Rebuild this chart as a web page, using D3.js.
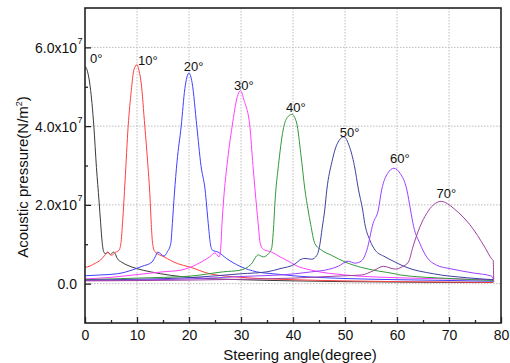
<!DOCTYPE html>
<html>
<head>
<meta charset="utf-8">
<script src="https://cdn.jsdelivr.net/npm/d3@7"></script>
<style>
    body { margin: 0; background: #fff; }
    text { font-family: Arial, "Liberation Sans", sans-serif; fill: #111; }
</style>
</head>
<body>
<div id="chart"></div>
<script>
// steering angle (degree), acoustic pressure (x10^7 N/m^2)
const curve0 = [[0,5.52],[0.5,5.38],[1.0,5.0],[1.7,4.0],[2.2,2.95],[2.7,2.1],[3.0,1.55],[3.3,1.05],[3.65,0.79],[4.0,0.76],[4.4,0.8],[4.9,0.74],[5.45,0.8],[5.8,0.76],[6.2,0.64],[7.0,0.55],[8.1,0.47],[10,0.38],[12.6,0.3],[16.5,0.21],[21,0.15],[30,0.1],[40,0.07],[50,0.05],[60,0.04],[70,0.03],[78.5,0.03]];
const curve10 = [[0,0.41],[1,0.45],[2,0.52],[3,0.6],[3.8,0.72],[4.3,0.8],[5.06,0.72],[5.9,0.8],[6.5,0.84],[6.9,1.02],[7.25,1.6],[7.7,2.6],[8.3,4.0],[8.9,4.9],[9.4,5.43],[10.0,5.56],[10.4,5.4],[10.8,5.1],[11.5,4.0],[12.1,3.0],[12.5,2.2],[12.75,1.5],[13.0,1.02],[13.4,0.82],[15.2,0.68],[17.75,0.51],[20.2,0.42],[24,0.25],[30,0.16],[40,0.1],[50,0.07],[60,0.05],[70,0.04],[78.5,0.03]];
const curve20 = [[0,0.2],[3,0.22],[6.2,0.25],[9.4,0.36],[11,0.44],[12.9,0.55],[13.5,0.68],[14.0,0.8],[15.2,0.7],[15.8,0.8],[16.5,1.02],[16.8,1.53],[17.2,2.3],[17.7,3.1],[18.5,4.0],[19.2,4.95],[20,5.35],[20.6,5.1],[21.5,4.0],[22.3,3.0],[23.1,2.38],[23.7,1.53],[24.1,1.02],[24.5,0.85],[25.6,0.8],[27.2,0.64],[29.8,0.44],[33,0.3],[36.2,0.25],[40,0.2],[50,0.13],[60,0.1],[70,0.08],[78.5,0.06]];
const curve30 = [[0,0.12],[5,0.16],[10,0.23],[15,0.3],[18.3,0.34],[20.2,0.41],[22.75,0.58],[24,0.68],[25,0.78],[25.8,0.68],[26.1,0.9],[26.35,1.53],[26.7,2.2],[27.3,3.0],[28.3,4.0],[29.3,4.75],[29.9,4.9],[30.6,4.65],[31.7,4.0],[32.3,3.0],[32.7,2.38],[33.3,1.53],[33.7,1.02],[34.3,0.87],[35.9,0.8],[37.5,0.68],[39.4,0.55],[40.4,0.47],[43.6,0.34],[50,0.22],[60,0.15],[70,0.12],[78.5,0.1]];
const curve40 = [[0,0.1],[10,0.14],[20.2,0.19],[26.6,0.3],[29.8,0.34],[32,0.5],[33.3,0.73],[34.3,0.68],[35.3,0.76],[35.9,0.9],[36.2,1.3],[36.6,2.2],[37.2,3.0],[38.1,3.9],[38.9,4.22],[39.8,4.3],[40.7,4.08],[41.5,3.3],[42.3,2.38],[42.9,1.87],[43.4,1.5],[44.2,1.02],[45.5,0.85],[47.4,0.72],[50,0.55],[53.2,0.41],[56.4,0.32],[59.6,0.25],[60.6,0.22],[70.2,0.13],[78.5,0.08]];
const curve50 = [[0,0.09],[10,0.11],[20,0.15],[30,0.25],[35,0.3],[37.5,0.38],[40.4,0.5],[41.3,0.6],[42.3,0.64],[43.6,0.62],[44.6,0.72],[45.2,1.02],[45.6,1.4],[46.1,1.87],[46.5,2.38],[47.5,3.1],[48.5,3.55],[49.8,3.73],[50.8,3.5],[51.8,3.0],[52.6,2.38],[53.4,1.87],[53.8,1.53],[54.8,1.1],[55.8,0.85],[57.7,0.68],[59.6,0.55],[61.5,0.43],[67,0.25],[73.4,0.15],[78.5,0.1]];
const curve60 = [[0,0.08],[20,0.12],[30,0.18],[40.4,0.25],[43.6,0.3],[46.8,0.36],[48.7,0.44],[50.6,0.57],[51.9,0.52],[53.2,0.58],[54.2,0.85],[55.4,1.53],[56.4,1.87],[57.05,2.38],[58.2,2.8],[59.4,2.93],[60.6,2.8],[61.9,2.38],[62.6,1.87],[63.2,1.45],[64.4,1.02],[65.7,0.68],[67.6,0.47],[70.2,0.38],[74.7,0.27],[78.2,0.19],[78.5,0.12]];
const curve70 = [[0,0.07],[20,0.09],[30,0.11],[40,0.14],[45,0.17],[50,0.2],[53.2,0.22],[55.5,0.33],[57.4,0.44],[59.6,0.37],[60.9,0.42],[62.2,0.55],[63.1,0.95],[64.4,1.44],[65.7,1.78],[67,2.0],[68.5,2.09],[69.7,2.03],[71,1.9],[72.5,1.72],[74,1.5],[75.5,1.22],[77,0.9],[78.2,0.63],[78.5,0.59],[78.6,0.04]];

const curves = [curve0, curve10, curve20, curve30, curve40, curve50, curve60, curve70];
const peakLabels = ["0°", "10°", "20°", "30°", "40°", "50°", "60°", "70°"];
// where each label starts, in data units (angle, pressure)
const labelAnchors = [[0.96,5.61],[10.2,5.54],[19.0,5.39],[28.65,4.92],[38.65,4.37],[49.0,3.73],[58.65,3.06],[67.6,2.17]];
const lineColors = ["#3a3a3a", "#ff4040", "#4040ff", "#ff40ff", "#33993a", "#4040a0", "#9a40ff", "#a040a0"];

const xTicks = [0, 10, 20, 30, 40, 50, 60, 70, 80];
const xMinorTicks = [5, 15, 25, 35, 45, 55, 65, 75];
const yTicks = [0, 2, 4, 6];
const yMinorTicks = [1, 3, 5];
const yTickText = ["0.0", "2.0x10", "4.0x10", "6.0x10"];
const yTickExp = ["", "7", "7", "7"];

const width = 510, height = 363;
const margin = {top: 8, right: 9, bottom: 40, left: 85};
const w = width - margin.left - margin.right;
const h = height - margin.top - margin.bottom;

const svg = d3.select('#chart')
    .append('svg')
    .attr('width', width)
    .attr('height', height);

const g = svg.append('g')
    .attr('transform', `translate(${margin.left},${margin.top})`);

const x = d3.scaleLinear().domain([0, 80]).range([0, w]);
const y = d3.scaleLinear().domain([-1, 7]).range([h, 0]);

// dotted grid
g.append('g')
    .selectAll('line.vgrid')
    .data(xTicks.slice(1, -1))
    .join('line')
    .attr('x1', d => x(d)).attr('x2', d => x(d))
    .attr('y1', 0).attr('y2', h)
    .attr('stroke', '#bdbdbd')
    .attr('stroke-dasharray', '1.5,1.5');

g.append('g')
    .selectAll('line.hgrid')
    .data(yTicks)
    .join('line')
    .attr('x1', 0).attr('x2', w)
    .attr('y1', d => y(d)).attr('y2', d => y(d))
    .attr('stroke', '#bdbdbd')
    .attr('stroke-dasharray', '1.5,1.5');

// curves
g.append('clipPath').attr('id', 'clip')
    .append('rect').attr('width', w).attr('height', h);

const line = d3.line()
    .x(d => x(d[0]))
    .y(d => y(d[1]))
    .curve(d3.curveMonotoneX);

g.append('g')
    .attr('clip-path', 'url(#clip)')
    .selectAll('path')
    .data(curves)
    .join('path')
    .attr('d', line)
    .attr('fill', 'none')
    .attr('stroke', (d, i) => lineColors[i])
    .attr('stroke-width', 1);

// peak labels
g.append('g')
    .selectAll('text')
    .data(peakLabels)
    .join('text')
    .attr('x', (d, i) => x(labelAnchors[i][0]))
    .attr('y', (d, i) => y(labelAnchors[i][1]))
    .attr('font-size', 13)
    .text(d => d);

// axes, ticks pointing inward
const xAxis = g.append('g')
    .attr('transform', `translate(0,${h})`)
    .call(d3.axisBottom(x).tickValues(xTicks).tickSize(-6).tickPadding(7).tickFormat(d3.format('d')));
xAxis.selectAll('text').attr('font-size', 14);

g.append('g')
    .attr('transform', `translate(0,${h})`)
    .call(d3.axisBottom(x).tickValues(xMinorTicks).tickSize(-3).tickFormat(''));

const yAxis = g.append('g')
    .call(d3.axisLeft(y).tickValues(yTicks).tickSize(-6).tickFormat(''));

yAxis.selectAll('.tick').each(function(d, i) {
    const t = d3.select(this);
    t.append('text')
        .attr('x', -8)
        .attr('dy', '0.35em')
        .attr('text-anchor', 'end')
        .attr('font-size', 14)
        .attr('fill', '#111')
        .text(yTickText[i]);
    if (yTickExp[i]) {
        t.append('text')
            .attr('x', -7.5)
            .attr('y', -4)
            .attr('text-anchor', 'start')
            .attr('font-size', 9)
            .attr('fill', '#111')
            .text(yTickExp[i]);
    }
});

g.append('g')
    .call(d3.axisLeft(y).tickValues(yMinorTicks).tickSize(-3).tickFormat(''));

g.selectAll('.domain').remove();
g.selectAll('.tick line').attr('stroke', '#222').attr('stroke-width', 1.3);

// frame
g.append('rect')
    .attr('width', w)
    .attr('height', h)
    .attr('fill', 'none')
    .attr('stroke', '#222')
    .attr('stroke-width', 1.6);

// axis titles
svg.append('text')
    .attr('x', 300)
    .attr('y', 360)
    .attr('text-anchor', 'middle')
    .attr('font-size', 15)
    .text('Steering angle(degree)');

const yTitle = svg.append('text')
    .attr('transform', 'translate(28,177) rotate(-90)')
    .attr('text-anchor', 'middle')
    .attr('font-size', 15);
yTitle.append('tspan').text('Acoustic pressure(N/m');
yTitle.append('tspan').attr('font-size', 9).attr('dy', -6).text('2');
yTitle.append('tspan').attr('dy', 6).text(')');
</script>
</body>
</html>
